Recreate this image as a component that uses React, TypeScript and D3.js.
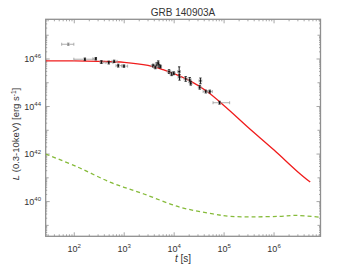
import { useEffect, useRef } from 'react'
import * as d3 from 'd3'

// observed points: time [s], log10 L, x-range, y errors (dex)
const tData = [76, 163, 270, 350, 490, 630, 760, 990, 3800, 4200, 4500, 4800, 5000, 5300, 7900, 8900, 9800, 12600, 12800, 17000, 20500, 21500, 33600, 32500, 42900, 51800, 81000]
const logLData = [46.62, 45.99, 46.01, 45.87, 45.85, 45.9, 45.72, 45.7, 45.72, 45.65, 45.78, 45.82, 45.7, 45.68, 45.47, 45.37, 45.4, 45.47, 45.23, 45.16, 45.12, 44.98, 45.08, 44.81, 44.63, 44.63, 44.16]
const tLo = [56, 98, 236, 328, 430, 570, 685, 900, 3500, 3900, 4200, 4500, 4700, 5000, 7300, 8300, 9200, 11800, 12000, 15800, 19200, 20200, 31500, 30500, 38000, 46000, 60000]
const tHi = [98, 263, 280, 393, 595, 720, 900, 1170, 4100, 4500, 4800, 5100, 5300, 5600, 8500, 9500, 10400, 13400, 13600, 18200, 21800, 22800, 35700, 34500, 48000, 58000, 129000]
const errDex = [0.05, 0.05, 0.05, 0.06, 0.06, 0.05, 0.06, 0.05, 0.06, 0.06, 0.07, 0.1, 0.06, 0.06, 0.08, 0.07, 0.06, 0.2, 0.12, 0.1, 0.1, 0.08, 0.12, 0.08, 0.06, 0.06, 0.06]
const greyFlag = [true, false, false, false, false, false, false, false, false, false, false, false, false, false, false, false, false, false, false, false, false, false, false, false, false, false, false]

// model curves
const redT = [27, 100, 300, 1000, 3000, 6000, 10000, 20000, 45000, 110000, 300000, 1000000, 3000000, 5300000]
const redLogL = [45.92, 45.92, 45.9, 45.86, 45.73, 45.55, 45.38, 45.1, 44.64, 43.96, 43.13, 42.17, 41.25, 40.82]
const greenT = [26.8, 115, 533, 2470, 13400, 60000, 130000, 380000, 1300000, 2800000, 8500000]
const greenLogL = [42.0, 41.46, 40.81, 40.32, 39.76, 39.48, 39.38, 39.36, 39.38, 39.42, 39.34]

const xTickExps = [2, 3, 4, 5, 6]
const yTickExps = [40, 42, 44, 46]

const W = 354
const H = 266

export default function App() {
  const svgRef = useRef<SVGSVGElement>(null)

  useEffect(() => {
    document.body.style.margin = '0'
    if (!svgRef.current) return
    const svg = d3.select(svgRef.current)
    svg.selectAll('*').remove()

    const left = 45.7, right = 320.5, top = 19.3, bottom = 236.3
    const axisColor = '#8f8f8f'
    const textColor = '#333'
    const font = '"Liberation Sans", Arial, sans-serif'

    const x = d3.scaleLog().domain([Math.pow(10, 1.428), Math.pow(10, 6.93)]).range([left, right])
    const y = d3.scaleLog().domain([Math.pow(10, 38.54), Math.pow(10, 47.67)]).range([bottom, top])
    const yl = (v: number) => y(Math.pow(10, v))

    const g = svg.append('g')

    // minor + major ticks on all four sides
    const [x0, x1] = x.domain()
    for (let e = 1; e <= 7; e++) {
      for (let m = 1; m <= 9; m++) {
        const v = m * Math.pow(10, e)
        if (v < x0 || v > x1) continue
        const px = x(v)
        const len = m === 1 ? 4 : 2
        g.append('line').attr('x1', px).attr('x2', px).attr('y1', bottom).attr('y2', bottom - len)
          .attr('stroke', axisColor).attr('stroke-width', 0.8)
        g.append('line').attr('x1', px).attr('x2', px).attr('y1', top).attr('y2', top + len)
          .attr('stroke', axisColor).attr('stroke-width', 0.8)
      }
    }
    for (let e = 38; e <= 47; e++) {
      for (let m = 1; m <= 9; m++) {
        const lv = e + Math.log10(m)
        if (lv < 38.54 || lv > 47.67) continue
        const py = yl(lv)
        const len = m === 1 ? (e % 2 === 0 ? 4 : 3) : 1.5
        g.append('line').attr('x1', left).attr('x2', left + len).attr('y1', py).attr('y2', py)
          .attr('stroke', axisColor).attr('stroke-width', 0.8)
        g.append('line').attr('x1', right).attr('x2', right - len).attr('y1', py).attr('y2', py)
          .attr('stroke', axisColor).attr('stroke-width', 0.8)
      }
    }

    g.append('rect').attr('x', left).attr('y', top).attr('width', right - left).attr('height', bottom - top)
      .attr('fill', 'none').attr('stroke', axisColor).attr('stroke-width', 1.3)

    // tick labels
    xTickExps.forEach(e => {
      const t = g.append('text').attr('x', x(Math.pow(10, e))).attr('y', 251.5)
        .attr('text-anchor', 'middle').style('font-family', font).style('font-size', '9px').attr('fill', textColor)
      t.append('tspan').text('10')
      t.append('tspan').attr('dy', -3.5).style('font-size', '6px').text(String(e))
    })
    yTickExps.forEach(e => {
      const t = g.append('text').attr('x', 41).attr('y', yl(e) + 3)
        .attr('text-anchor', 'end').style('font-family', font).style('font-size', '9px').attr('fill', textColor)
      t.append('tspan').text('10')
      t.append('tspan').attr('dy', -3.5).style('font-size', '6px').text(String(e))
    })

    // title & labels
    g.append('text').attr('x', 183).attr('y', 16).attr('text-anchor', 'middle')
      .style('font-family', font).style('font-size', '10px').attr('fill', textColor).text('GRB 140903A')

    const xl = g.append('text').attr('x', 183).attr('y', 262).attr('text-anchor', 'middle')
      .style('font-family', font).style('font-size', '10px').attr('fill', textColor)
    xl.append('tspan').style('font-style', 'italic').text('t')
    xl.append('tspan').text(' [s]')

    const ylab = g.append('text').attr('transform', 'translate(19,134) rotate(-90)').attr('text-anchor', 'middle')
      .style('font-family', font).style('font-size', '9.5px').attr('fill', textColor)
    ylab.append('tspan').style('font-style', 'italic').text('L')
    ylab.append('tspan').text(' (0.3-10keV) [erg s')
    ylab.append('tspan').attr('dy', -3.5).style('font-size', '6.5px').text('-1')
    ylab.append('tspan').attr('dy', 3.5).text(']')

    const clip = svg.append('defs').append('clipPath').attr('id', 'plotclip')
    clip.append('rect').attr('x', left).attr('y', top).attr('width', right - left).attr('height', bottom - top)
    const plot = svg.append('g').attr('clip-path', 'url(#plotclip)')

    const line = d3.line<[number, number]>()
      .x(d => x(d[0]))
      .y(d => yl(d[1]))
      .curve(d3.curveCatmullRom)

    plot.append('path')
      .datum(greenT.map((t, i) => [t, greenLogL[i]] as [number, number]))
      .attr('fill', 'none').attr('stroke', '#86bb3a').attr('stroke-width', 1.3)
      .attr('stroke-dasharray', '4,3').attr('d', line)

    plot.append('path')
      .datum(redT.map((t, i) => [t, redLogL[i]] as [number, number]))
      .attr('fill', 'none').attr('stroke', '#f01c1c').attr('stroke-width', 1.3).attr('d', line)

    // data with error bars
    tData.forEach((t, i) => {
      const px = x(t)
      const py = yl(logLData[i])
      const pLo = yl(logLData[i] - errDex[i])
      const pHi = yl(logLData[i] + errDex[i])
      const xa = x(tLo[i]), xb = x(tHi[i])
      const errCol = '#9a9a9a'
      const ptCol = greyFlag[i] ? '#8a8a8a' : '#111'
      plot.append('line').attr('x1', xa).attr('x2', xb).attr('y1', py).attr('y2', py)
        .attr('stroke', errCol).attr('stroke-width', 0.8)
      plot.append('line').attr('x1', xa).attr('x2', xa).attr('y1', py - 1.5).attr('y2', py + 1.5)
        .attr('stroke', errCol).attr('stroke-width', 0.8)
      plot.append('line').attr('x1', xb).attr('x2', xb).attr('y1', py - 1.5).attr('y2', py + 1.5)
        .attr('stroke', errCol).attr('stroke-width', 0.8)
      plot.append('line').attr('x1', px).attr('x2', px).attr('y1', pLo).attr('y2', pHi)
        .attr('stroke', greyFlag[i] ? errCol : '#222').attr('stroke-width', 1)
      plot.append('line').attr('x1', px - 1.2).attr('x2', px + 1.2).attr('y1', pLo).attr('y2', pLo)
        .attr('stroke', ptCol).attr('stroke-width', 0.8)
      plot.append('line').attr('x1', px - 1.2).attr('x2', px + 1.2).attr('y1', pHi).attr('y2', pHi)
        .attr('stroke', ptCol).attr('stroke-width', 0.8)
      plot.append('circle').attr('cx', px).attr('cy', py).attr('r', 0.9).attr('fill', ptCol)
    })
  }, [])

  return <svg ref={svgRef} width={W} height={H} style={{ display: 'block', background: '#fff' }} />
}
